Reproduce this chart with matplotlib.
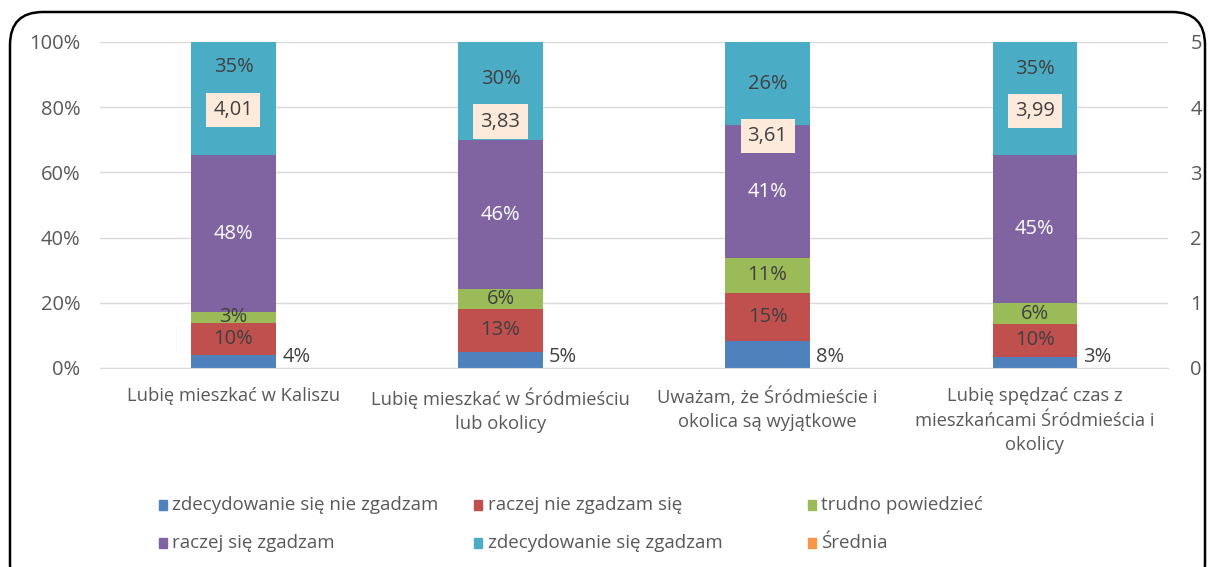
import matplotlib.pyplot as plt
from matplotlib.patches import FancyBboxPatch, Rectangle

plt.rcParams['font.family'] = ['Open Sans', 'DejaVu Sans']

categories = ['Lubię mieszkać w Kaliszu',
              'Lubię mieszkać w Śródmieściu\nlub okolicy',
              'Uważam, że Śródmieście i\nokolica są wyjątkowe',
              'Lubię spędzać czas z\nmieszkańcami Śródmieścia i\nokolicy']
names = ['zdecydowanie się nie zgadzam', 'raczej nie zgadzam się', 'trudno powiedzieć',
         'raczej się zgadzam', 'zdecydowanie się zgadzam', 'Średnia']
colors = ['#4F81BD', '#C0504D', '#9BBB59', '#8064A2', '#4BACC6', '#F79646']

strongly_disagree = [4.0, 5.0, 8.2, 3.3]
disagree = [9.9, 13.2, 14.8, 10.3]
hard_to_say = [3.2, 5.9, 10.8, 6.2]
agree = [48.2, 45.8, 40.6, 45.4]
strongly_agree = [34.7, 30.1, 25.6, 34.8]
mean_score = [4.01, 3.83, 3.61, 3.99]

series = [strongly_disagree, disagree, hard_to_say, agree, strongly_agree]

fig = plt.figure(figsize=(12.13, 5.67), dpi=100)
ax = fig.add_axes([0.0824, 0.351, 0.8806, 0.575])
ax2 = ax.twinx()

x = list(range(len(categories)))
w = 0.315
fs = 14.5
bottom = [0.0] * len(x)
for k, vals in enumerate(series):
    ax.bar(x, vals, w, bottom=bottom, color=colors[k], zorder=2)
    for i, v in enumerate(vals):
        lab = f'{round(v):d}%'
        if k == 0:
            ax.text(i + w / 2 + 0.025, 3.3, lab, ha='left', va='center',
                    fontsize=fs, color='#404040', zorder=3)
            continue
        y = bottom[i] + v / 2
        if k == 4:
            # keep the top label clear of the average box
            y = max(y, mean_score[i] * 20 + 12)
        ax.text(i, y, lab, ha='center', va='center', fontsize=fs,
                color='white' if k == 3 else '#404040', zorder=3)
    bottom = [b + v for b, v in zip(bottom, vals)]

ax2.plot(x, mean_score, linestyle='none', marker='none', color=colors[5])
for i, m in enumerate(mean_score):
    ax2.text(i, m - 0.05, f'{m:.2f}'.replace('.', ','), ha='center', va='center', fontsize=fs,
             color='#404040', zorder=4,
             bbox=dict(boxstyle='square,pad=0.35', fc='#FDEADA', ec='none'))

ax.set_xlim(-0.5, 3.5)
ax.set_ylim(0, 100)
ax2.set_ylim(0, 5)
ax.set_yticks(range(0, 101, 20))
ax.set_yticklabels([f'{t}%' for t in range(0, 101, 20)])
ax2.set_yticks(range(6))
ax.set_xticks(x)
ax.set_xticklabels(categories, fontsize=13.2, color='#595959', linespacing=1.45)
ax.grid(axis='y', color='#D9D9D9', linewidth=1, zorder=0)
ax.set_axisbelow(True)
for a in (ax, ax2):
    for s in a.spines.values():
        s.set_visible(False)
ax.spines['bottom'].set_visible(True)
ax.spines['bottom'].set_color('#D9D9D9')
ax.tick_params(axis='y', length=0, labelsize=14.5, labelcolor='#595959', pad=14)
ax2.tick_params(axis='y', length=0, labelsize=14.5, labelcolor='#595959', pad=16)
ax.tick_params(axis='x', length=0, pad=14)

# legend, laid out row by row
leg_x = [0.131, 0.391, 0.666]
leg_y = [0.109, 0.042]
for j, (nm, c) in enumerate(zip(names, colors)):
    lx = leg_x[j % 3]
    ly = leg_y[j // 3]
    fig.patches.append(Rectangle((lx, ly - 0.009), 0.0066, 0.018, transform=fig.transFigure,
                                 color=c))
    fig.text(lx + 0.011, ly, nm, ha='left', va='center', fontsize=13.5, color='#595959')

frame = FancyBboxPatch((0.1, -0.3), 11.95, 5.85, boxstyle='round,pad=0,rounding_size=0.33',
                       transform=fig.dpi_scale_trans, fc='none', ec='black', lw=1.8)
fig.patches.append(frame)

fig.savefig('out.png', dpi=100)
